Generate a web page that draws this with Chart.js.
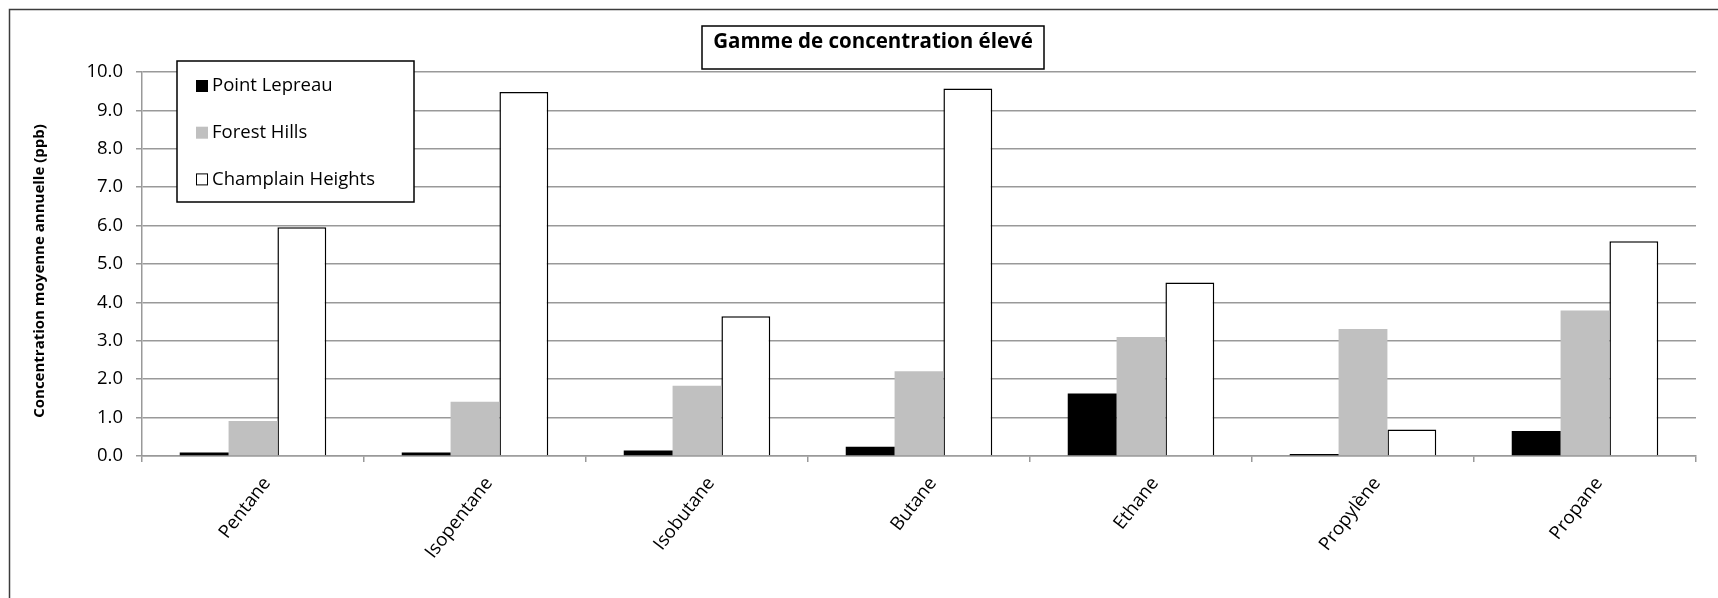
<!DOCTYPE html>
<html>
<head>
<meta charset="utf-8">
<script src="https://cdn.jsdelivr.net/npm/chart.js@4.4.0/dist/chart.umd.min.js"></script>
<style>
  body { margin: 0; background: #fff; }
  #wrap { width: 1718px; height: 598px; position: relative; }
</style>
</head>
<body>
<div id="wrap"><canvas id="gammeChart" width="1718" height="598"></canvas></div>
<script>
const chartTitle = 'Gamme de concentration élevé';
const yTitle = 'Concentration moyenne annuelle (ppb)';
const categories = ['Pentane', 'Isopentane', 'Isobutane', 'Butane', 'Ethane', 'Propylène', 'Propane'];
const pointLepreau = [0.09, 0.09, 0.14, 0.24, 1.63, 0.05, 0.65];
const forestHills = [0.91, 1.41, 1.83, 2.21, 3.10, 3.31, 3.79];
const champlainHeights = [5.96, 9.48, 3.64, 9.57, 4.52, 0.69, 5.59];
const yTicks = [0, 1, 2, 3, 4, 5, 6, 7, 8, 9, 10];

const FONT = "'Open Sans', 'Liberation Sans', sans-serif";
const GRID = '#999999';

// frame, title box, y title and legend box like the spreadsheet chart
const decorations = {
  id: 'decorations',
  beforeDraw(chart) {
    const ctx = chart.ctx;
    ctx.save();
    ctx.fillStyle = '#fff';
    ctx.fillRect(0, 0, chart.width, chart.height);
    ctx.strokeStyle = '#3c3c3c';
    ctx.lineWidth = 1.5;
    ctx.strokeRect(9.5, 9.5, chart.width + 20, chart.height + 20);
    ctx.restore();
  },
  afterDraw(chart) {
    const ctx = chart.ctx;
    ctx.save();
    // y axis title
    ctx.save();
    ctx.translate(40, 271);
    ctx.rotate(-Math.PI / 2);
    ctx.fillStyle = '#000';
    ctx.font = 'bold 15px ' + FONT;
    ctx.textAlign = 'center';
    ctx.textBaseline = 'middle';
    ctx.fillText(yTitle, 0, 0);
    ctx.restore();

    // title box
    ctx.fillStyle = '#fff';
    ctx.fillRect(702, 26, 342, 43);
    ctx.strokeStyle = '#000';
    ctx.lineWidth = 1.5;
    ctx.strokeRect(702, 26, 342, 43);
    ctx.fillStyle = '#000';
    ctx.font = 'bold 20.5px ' + FONT;
    ctx.textAlign = 'center';
    ctx.textBaseline = 'middle';
    ctx.fillText(chartTitle, 873, 42);

    // legend box
    ctx.fillStyle = '#fff';
    ctx.fillRect(177, 61, 237, 141);
    ctx.strokeRect(177, 61, 237, 141);
    ctx.font = '18.5px ' + FONT;
    ctx.textAlign = 'left';
    chart.data.datasets.forEach((ds, i) => {
      const y = 86 + i * 46.7;
      ctx.fillStyle = ds.backgroundColor;
      ctx.fillRect(196, y - 6, 12, 12);
      if (ds.borderWidth) {
        ctx.lineWidth = 1;
        ctx.strokeStyle = '#000';
        ctx.strokeRect(196.5, y - 5.5, 11, 11);
      }
      ctx.fillStyle = '#000';
      ctx.fillText(ds.label, 212, y);
    });
    ctx.restore();
  }
};

new Chart(document.getElementById('gammeChart').getContext('2d'), {
  type: 'bar',
  data: {
    labels: categories,
    datasets: [{
      label: 'Point Lepreau',
      data: pointLepreau,
      backgroundColor: '#000000',
      borderWidth: 0,
    }, {
      label: 'Forest Hills',
      data: forestHills,
      backgroundColor: '#c0c0c0',
      borderWidth: 0,
    }, {
      label: 'Champlain Heights',
      data: champlainHeights,
      backgroundColor: '#ffffff',
      borderColor: '#000000',
      borderWidth: 1.5,
    }]
  },
  options: {
    responsive: false,
    animation: false,
    layout: { padding: { left: 0, top: 72, right: 22, bottom: 0 } },
    datasets: { bar: { categoryPercentage: 0.66, barPercentage: 1.0 } },
    plugins: {
      legend: { display: false },
      title: { display: false },
      tooltip: { enabled: false },
    },
    scales: {
      x: {
        grid: { display: true, drawOnChartArea: false, color: GRID, lineWidth: 1.5, tickLength: 6 },
        border: { color: GRID, width: 1.5 },
        ticks: {
          autoSkip: false, minRotation: 52, maxRotation: 52, padding: 11, labelOffset: 14,
          color: '#000', font: { family: FONT, size: 18.5 }
        },
        afterFit(scale) { scale.height = 142; }
      },
      y: {
        min: 0,
        max: 10,
        afterBuildTicks(scale) { scale.ticks = yTicks.map(v => ({ value: v })); },
        grid: { color: GRID, lineWidth: 1.5, tickLength: 6 },
        border: { color: GRID, width: 1.5 },
        ticks: {
          padding: 13, color: '#000', font: { family: FONT, size: 18.5 },
          callback: (v) => Number(v).toFixed(1)
        },
        afterFit(scale) { scale.width = 142; }
      }
    }
  },
  plugins: [decorations]
});
</script>
</body>
</html>
